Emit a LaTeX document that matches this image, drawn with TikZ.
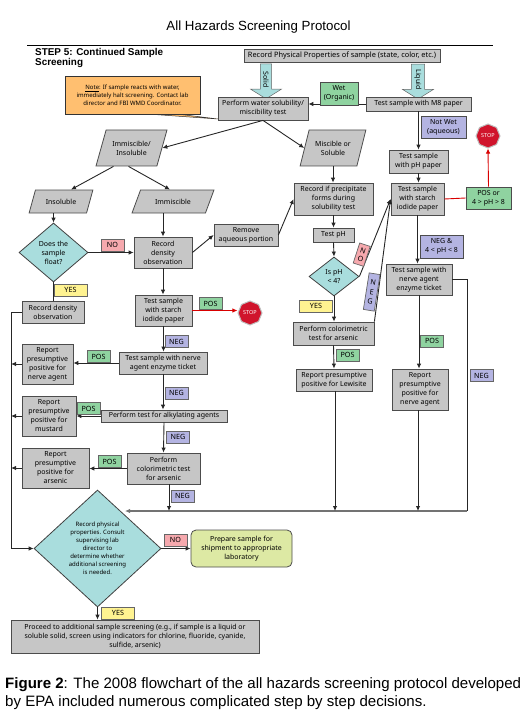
\documentclass[tikz,border=0pt]{standalone}
\usepackage{fontspec}
\setmainfont{Liberation Sans}
\newfontfamily\boxfont{Noto Sans}
\usetikzlibrary{shapes.geometric,shapes.arrows,arrows.meta}
\definecolor{boxgray}{HTML}{C6C6C6}
\definecolor{tealfill}{HTML}{A9DDDD}
\definecolor{posgreen}{HTML}{8FD3A0}
\definecolor{negblue}{HTML}{B4B4E2}
\definecolor{nopink}{HTML}{F6A9AE}
\definecolor{yesyellow}{HTML}{FFF391}
\definecolor{noteorange}{HTML}{FFBF70}
\definecolor{shiplime}{HTML}{DDE9A4}
\definecolor{stopred}{HTML}{D0142C}
\begin{document}
\begin{tikzpicture}[x=1pt,y=-1pt,>={Latex[length=5pt,width=4.5pt]},
    every node/.style={font=\boxfont\fontsize{7}{9}\selectfont, align=center, inner sep=0pt},
    gbox/.style={draw=black!70, line width=0.8pt, fill=boxgray},
    tag/.style={draw=black!60, line width=0.7pt, minimum height=12pt, font=\boxfont\fontsize{7.2}{8}\selectfont},
    posnode/.style={tag, fill=posgreen, minimum width=23pt},
    negnode/.style={tag, fill=negblue, minimum width=23pt},
    nonode/.style={tag, fill=nopink, minimum width=23pt},
    yesnode/.style={tag, fill=yesyellow, minimum width=33pt},
    slant/.style={gbox, trapezium, trapezium stretches=true},
    choice/.style={diamond, draw=black!75, line width=0.8pt, fill=tealfill},
    blockarrow/.style={single arrow, draw=black!60, line width=0.5pt, fill=tealfill, rotate=-90,
        minimum width=31pt, minimum height=35pt, single arrow head extend=5pt, single arrow tip angle=116},
    stopsign/.style={regular polygon, regular polygon sides=8, shape border rotate=22.5, draw=black!25, line width=1pt,
        fill=stopred, text=white, minimum size=24pt, font=\boxfont\bfseries\fontsize{5.5}{6}\selectfont},
    link/.style={draw=black!85, line width=0.9pt},
    redlink/.style={draw=red!85!black, line width=0.9pt}]
    \useasboundingbox (0,0) rectangle (529,714);
    % heading
    \node[font=\fontsize{13.3}{15}\selectfont\rmfamily] (title) at (258.5,27) {All Hazards Screening Protocol};
    \coordinate (ruleL) at (27,45);
    \coordinate (ruleR) at (493,45);
    \draw[line width=0.8pt] (ruleL) -- (ruleR);
    \node[anchor=west, align=left, font=\rmfamily\bfseries\fontsize{9.9}{10}\selectfont] (stepfive) at (35,58) {STEP 5: Continued Sample\\Screening};
    % first row
    \node[gbox, minimum width=196pt, minimum height=13pt, font=\boxfont\fontsize{7.4}{9}\selectfont] (record) at (342,55.5) {Record Physical Properties of sample (state, color, etc.)};
    \node[blockarrow] (solid) at (266,79.5) {Solid};
    \node[blockarrow] (liquid) at (418,79.5) {Liquid};
    \node[gbox, minimum width=90pt, minimum height=23pt] (water) at (263,108.5) {Perform water solubility/\\miscibility test};
    \node[gbox, minimum width=105pt, minimum height=14pt] (mpaper) at (418.5,104) {Test sample with M8 paper};
    \coordinate (tailA) at (147,114);
    \coordinate (tailB) at (177,114);
    \coordinate (tailC) at (218,119);
    \filldraw[fill=noteorange, draw=black!80, line width=0.5pt] (tailA) -- (tailC) -- (tailB) -- cycle;
    \node[draw=black!80, line width=0.8pt, fill=noteorange, minimum width=135pt, minimum height=38pt, font=\boxfont\fontsize{6}{8}\selectfont] (note) at (132.5,95) {\underline{\textbf{Note}}: If sample reacts with water,\\immediately halt screening. Contact lab\\director and FBI WMD Coordinator.};
    % left branch
    \node[slant, trapezium left angle=62, trapezium right angle=118, minimum width=71pt, minimum height=36pt] (immis) at (131.5,148) {Immiscible/\\Insoluble};
    \node[slant, trapezium left angle=55, trapezium right angle=125, minimum width=64pt, minimum height=23pt] (insol) at (61,201.5) {Insoluble};
    \node[slant, trapezium left angle=49, trapezium right angle=131, minimum width=82pt, minimum height=23pt] (immisc) at (173,201.5) {Immiscible};
    \node[choice, minimum width=69pt, minimum height=59pt] (floatd) at (53.5,252.5) {Does the\\sample\\float?};
    \node[gbox, minimum width=58pt, minimum height=31pt] (density) at (163,252.5) {Record\\density\\observation};
    \node[gbox, minimum width=64pt, minimum height=22pt] (remove) at (246,235) {Remove\\aqueous portion};
    \node[gbox, minimum width=62pt, minimum height=22pt] (recdens) at (53,312) {Record density\\observation};
    \node[gbox, minimum width=57pt, minimum height=31pt] (starch) at (163.5,310.5) {Test sample\\with starch\\iodide paper};
    \node[stopsign] (stopA) at (250,313) {STOP};
    \node[gbox, minimum width=88pt, minimum height=22pt] (nerve) at (163,363) {Test sample with nerve\\agent enzyme ticket};
    \node[gbox, minimum width=51pt, minimum height=40pt] (nrep) at (47.5,364) {Report\\presumptive\\positive for\\nerve agent};
    \node[gbox, minimum width=126pt, minimum height=12pt] (alkyl) at (164,416) {Perform test for alkylating agents};
    \node[gbox, minimum width=54pt, minimum height=40pt] (mrep) at (49,416) {Report\\presumptive\\positive for\\mustard};
    \node[gbox, minimum width=73pt, minimum height=31pt] (colorim) at (163.5,468.5) {Perform\\colorimetric test\\for arsenic};
    \node[gbox, minimum width=67pt, minimum height=40pt] (arep) at (55.5,468) {Report\\presumptive\\positive for\\arsenic};
    \node[choice, minimum width=127pt, minimum height=117pt, font=\boxfont\fontsize{6}{8}\selectfont] (bigd) at (97.5,548.5) {Record physical\\properties. Consult\\supervising lab\\director to\\determine whether\\additional screening\\is needed.};
    \node[gbox, rounded corners=5pt, fill=shiplime, minimum width=101pt, minimum height=37pt] (prepare) at (241.5,548.5) {Prepare sample for\\shipment to appropriate\\laboratory};
    \node[gbox, minimum width=248pt, minimum height=33pt] (proceed) at (135,636.5) {Proceed to additional sample screening (e.g., if sample is a liquid or\\soluble solid, screen using indicators for chlorine, fluoride, cyanide,\\sulfide, arsenic)};
    % middle branch
    \node[slant, trapezium left angle=65, trapezium right angle=115, minimum width=66pt, minimum height=36pt] (misc) at (333,148) {Miscible or\\Soluble};
    \node[gbox, minimum width=79pt, minimum height=32pt] (precip) at (333.5,199) {Record if precipitate\\forms during\\solubility test};
    \node[gbox, minimum width=41pt, minimum height=14pt] (testph) at (333.5,235) {Test pH};
    \node[choice, minimum width=50pt, minimum height=39pt] (isph) at (334,276.5) {Is pH\\< 4?};
    \node[gbox, minimum width=81pt, minimum height=23pt] (perf) at (333.5,333.5) {Perform colorimetric\\test for arsenic};
    \node[gbox, minimum width=76pt, minimum height=22pt] (lewis) at (334,380) {Report presumptive\\positive for Lewisite};
    % right branch
    \node[gbox, minimum width=59pt, minimum height=23pt] (phpaper) at (418.5,161.5) {Test sample\\with pH paper};
    \node[gbox, minimum width=53pt, minimum height=32pt] (starchB) at (417.5,199) {Test sample\\with starch\\iodide paper};
    \node[gbox, fill=posgreen, minimum width=45pt, minimum height=22pt] (posor) at (488.5,198) {POS or\\4 > pH > 8};
    \node[stopsign] (stopB) at (488,136) {STOP};
    \node[gbox, minimum width=66pt, minimum height=31pt] (nerveB) at (419,279.5) {Test sample with\\nerve agent\\enzyme ticket};
    \node[gbox, minimum width=56pt, minimum height=41pt] (nrepB) at (420,389.5) {Report\\presumptive\\positive for\\nerve agent};
    \coordinate (railL) at (125,511);
    \coordinate (railR) at (467,511);
    \coordinate (leftrail) at (11,312);
    % connectors
    \draw[link,->] (water.south) -- (immis.east);
    \draw[link,->] (water.south) -- (misc.west);
    \draw[link,->] ([xshift=-18pt]immis.south) -- ([xshift=10pt]insol.north);
    \draw[link,->] ([xshift=-3pt]immis.south) -- ([xshift=-3pt]immisc.north);
    \draw[link,->] (floatd.north |- insol.south) -- (floatd.north);
    \draw[link,->] (density.north |- immisc.south) -- (density.north);
    \draw[link,->] (floatd.east) -- (floatd.east -| density.west);
    \draw[link,->] (density.east) -- (remove.west);
    \draw[link,->] (remove.east) -- (precip.west);
    \draw[link,->] (density.south) -- (starch.north -| density.south);
    \draw[link,->] (starch.south) -- (starch.south |- nerve.north);
    \draw[link,->] (nerve.south) -- (nerve.south |- alkyl.north);
    \draw[link,->] (alkyl.south) -- (colorim.north);
    \draw[link] (floatd.south) -- (floatd.south |- recdens.north);
    \draw[link,->] (recdens.west) -- (leftrail) |- (bigd.west);
    \foreach \report/\ask in {nrep/nerve,mrep/alkyl,arep/colorim} {
        \draw[link,->] (\ask.west) -- (\ask.west -| \report.east);
        \draw[link,->] (\report.west) -- (\report.west -| leftrail);
    }
    \draw[redlink,->] (starch.east) -- (starch.east -| stopA.west);
    \draw[link,->] (bigd.east) -- (bigd.east -| prepare.west);
    \draw[link,->] (bigd.south) -- (bigd.south |- proceed.north);
    \draw[line width=1.2pt, draw=black!55,->] (railR) -- (railL);
    \draw[link,->] ([xshift=5.5pt]colorim.south) -- ([xshift=5.5pt]colorim.south |- railL);
    \draw[link,->] ([xshift=1pt]lewis.south) -- ([xshift=1pt]lewis.south |- railL);
    \draw[link,->] ([xshift=-2pt]nrepB.south) -- ([xshift=-2pt]nrepB.south |- railL);
    \draw[link] (nerveB.east) -| (railR);
    \draw[link,->] (mpaper.west) -- (mpaper.west -| water.east);
    \draw[link,->] (mpaper.south) -- (mpaper.south |- phpaper.north);
    \draw[link,->] (phpaper.south) -- (phpaper.south |- starchB.north);
    \draw[link,->] (starchB.south) -- (starchB.south |- nerveB.north);
    \draw[link,->] (nerveB.south) -- (nerveB.south |- nrepB.north);
    \draw[redlink] (starchB.east) -- (posor.west);
    \draw[redlink,->] (posor.north) -- (stopB.south);
    \draw[link,->] (misc.south) -- (misc.south |- precip.north);
    \draw[link,->] (precip.south) -- (testph.north);
    \draw[link,->] (testph.south) -- (isph.north);
    \draw[link,->] (isph.south) -- (perf.north -| isph.south);
    \draw[link,->] (perf.south) -- (lewis.north);
    \draw[link,->] (isph.east) -- (starchB.west);
    \draw[link,->] (perf.north east) -- (starchB.west);
    % tags on the connectors
    \foreach \name/\x/\y in {posA/210.5/303.5,posB/98.5/356.5,posC/88.5/408.5,posD/109.5/461.5,posE/347.5/355,posF/432/341}
        \node[posnode] (\name) at (\x,\y) {POS};
    \foreach \name/\x/\y in {negA/176.5/341.5,negB/176.5/393,negC/178/437,negD/182.5/496,negE/481.5/375.5}
        \node[negnode] (\name) at (\x,\y) {NEG};
    \foreach \name/\x/\y in {yesA/70.5/290,yesB/316/306,yesC/118/613}
        \node[yesnode] (\name) at (\x,\y) {YES};
    \foreach \name/\x/\y in {noA/112.5/245,noB/175.5/540}
        \node[nonode] (\name) at (\x,\y) {NO};
    \node[gbox, fill=posgreen, minimum width=38pt, minimum height=23pt, line width=0.7pt] (wet) at (339,93.5) {Wet\\(Organic)};
    \node[gbox, fill=negblue, minimum width=45pt, minimum height=22pt, line width=0.7pt] (notwet) at (443.5,127) {Not Wet\\(aqueous)};
    \node[gbox, fill=negblue, minimum width=43pt, minimum height=23pt, line width=0.7pt] (negph) at (441.5,246.5) {NEG \&\\4 < pH < 8};
    \node[tag, fill=nopink, rotate=-18, minimum width=11pt, minimum height=21pt] (noC) at (361.7,254.7) {N\\O};
    \node[tag, fill=negblue, rotate=-9, minimum width=11pt, minimum height=37pt, font=\boxfont\fontsize{7.2}{10}\selectfont] (negF) at (371.7,292) {N\\E\\G};
    % caption
    \node[anchor=north west, align=left, font=\rmfamily\fontsize{15.05}{18.5}\selectfont] (caption) at (5,677) {\textbf{Figure 2}: The 2008 flowchart of the all hazards screening protocol developed\\by EPA included numerous complicated step by step decisions.};
\end{tikzpicture}
\end{document}
